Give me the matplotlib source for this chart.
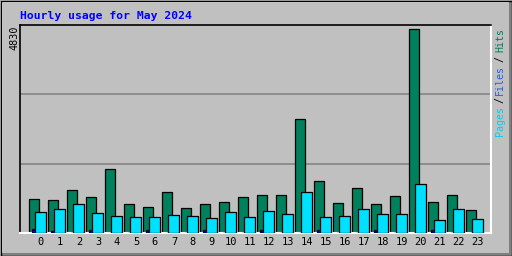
import matplotlib
matplotlib.use("Agg")
import matplotlib.pyplot as plt
import numpy as np

# hourly totals for May 2024
hours = list(range(24))
hits = [815, 792, 1029, 863, 1526, 697, 626, 981, 602, 697, 744, 863,
        910, 910, 2695, 1242, 720, 1076, 697, 886, 4830, 744, 910, 555]
files = [90, 40, 0, 80, 0, 0, 80, 0, 0, 80, 0, 0,
         80, 0, 0, 80, 0, 0, 80, 0, 0, 80, 0, 0]
pages = [507, 578, 697, 483, 412, 389, 389, 436, 412, 365, 507, 389,
         531, 460, 981, 389, 412, 578, 460, 460, 1171, 318, 578, 341]
max_label = "4830"

bg = "#C0C0C0"
fig = plt.figure(figsize=(5.12, 2.56), dpi=100, facecolor=bg)

# frame around the whole picture, drawn in pixel coords
frame = fig.add_axes([0, 0, 1, 1], zorder=-5)
frame.set_xlim(0, 512)
frame.set_ylim(256, 0)
frame.axis("off")
frame.plot([1.5, 1.5], [1, 253], color="white", lw=1.2)
frame.plot([1, 508], [1.5, 1.5], color="white", lw=1.2)
frame.plot([2, 511], [253.5, 253.5], color="#808080", lw=2.2)
frame.plot([509.5, 509.5], [2, 254], color="#808080", lw=2.2)
frame.plot([0.5, 511.5, 511.5, 0.5, 0.5], [0.5, 0.5, 255.5, 255.5, 0.5],
           color="black", lw=1)

ax = fig.add_axes([20 / 512, (256 - 233) / 256, 471 / 512, 208 / 256])
ax.set_facecolor(bg)
x = np.array(hours)
ytop = 4830 * 208 / 204
ax.set_ylim(0, ytop)
ax.set_xlim(-0.474, -0.474 + 471 / 19)

for f in (1 / 3, 2 / 3):
    ax.axhline(ytop * f, color="#808080", lw=1.1, zorder=0)

ax.bar(x, hits, width=0.53, align="edge", color="#00805C",
       edgecolor="black", lw=0.9, zorder=2)
ax.bar(x + 0.16, files, width=0.35, align="edge", color="#0000FF",
       edgecolor="black", lw=0.9, zorder=3)
ax.bar(x + 0.316, pages, width=0.58, align="edge", color="#00E0FF",
       edgecolor="black", lw=0.9, zorder=4)

for s in ("top", "left"):
    ax.spines[s].set_color("black")
    ax.spines[s].set_linewidth(1.2)
for s in ("bottom", "right"):
    ax.spines[s].set_color("white")
    ax.spines[s].set_linewidth(1.5)

ax.set_yticks([])
ax.set_xticks(x + 0.63)
ax.set_xticklabels([str(h) for h in hours], family="DejaVu Sans Mono",
                   fontsize=7.5)
ax.tick_params(axis="x", length=0, pad=3)

fig.text(20 / 512, 1 - 16 / 256, "Hourly usage for May 2024", color="#0000FF",
         family="DejaVu Sans Mono", weight="bold", fontsize=8.2,
         ha="left", va="center")
fig.text(14 / 512, 1 - 26 / 256, max_label, rotation=90, ha="center",
         va="top", family="DejaVu Sans Mono", fontsize=7.3)

# legend on the right, read bottom to top
parts = [("Hits", "#00805C", 28), ("/", "black", 56), ("Files", "#2060E0", 65),
         ("/", "black", 97), ("Pages", "#00D0F0", 106)]
for txt, col, ypx in parts:
    fig.text(500 / 512, 1 - ypx / 256, txt, rotation=90, ha="center", va="top",
             color=col, family="DejaVu Sans Mono", fontsize=7.2)

fig.savefig("out.png", dpi=100, facecolor=bg)
